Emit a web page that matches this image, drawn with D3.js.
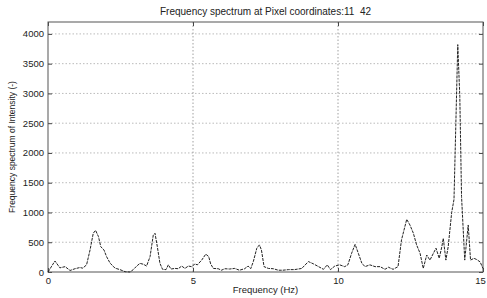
<!DOCTYPE html>
<html>
<head>
<meta charset="utf-8">
<script src="https://cdn.jsdelivr.net/npm/d3@7"></script>
<style>
  body { margin: 0; background: #fff; }
  svg { display: block; font-family: "Liberation Sans", Arial, sans-serif; }
</style>
</head>
<body>
<div id="chart"></div>
<script>
// values
const freqs = [0, 0.24, 0.41, 0.59, 0.76, 0.93, 1.10, 1.20, 1.33, 1.45, 1.56, 1.64, 1.74, 1.82, 1.93,
  2.02, 2.14, 2.31, 2.48, 2.66, 2.83, 2.94, 3.06, 3.17, 3.29, 3.40, 3.52, 3.63, 3.69, 3.77, 3.86, 3.95,
  4.07, 4.15, 4.24, 4.38, 4.49, 4.61, 4.72, 4.84, 4.95, 5.07, 5.15, 5.30, 5.44, 5.54, 5.61, 5.70, 5.87,
  5.98, 6.10, 6.26, 6.44, 6.60, 6.78, 6.90, 6.99, 7.08, 7.20, 7.29, 7.36, 7.45, 7.60, 7.77, 7.94, 8.10,
  8.30, 8.50, 8.75, 8.98, 9.16, 9.33, 9.50, 9.63, 9.74, 9.89, 10.06, 10.23, 10.34, 10.47, 10.59, 10.70,
  10.82, 10.93, 11.10, 11.28, 11.45, 11.62, 11.74, 11.90, 12.07, 12.19, 12.37, 12.48, 12.60, 12.71,
  12.83, 12.94, 13.06, 13.17, 13.29, 13.38, 13.49, 13.58, 13.63, 13.72, 13.80, 13.92, 14.00, 14.13,
  14.20, 14.26, 14.37, 14.49, 14.57, 14.69, 14.78, 14.90, 15.00]
const intensity = [0, 185, 70, 90, 25, 55, 75, 65, 120, 370, 650, 700, 595, 425, 370,
  258, 150, 65, 40, 5, 0, 40, 100, 145, 130, 100, 260, 620, 650, 425, 145, 45,
  40, 120, 50, 60, 55, 100, 60, 100, 90, 135, 120, 200, 300, 260, 135, 60, 55,
  30, 55, 50, 60, 30, 55, 100, 55, 175, 400, 455, 370, 90, 60, 55, 30, 30,
  40, 40, 60, 175, 135, 90, 45, 120, 40, 100, 120, 90, 120, 315, 465, 315,
  150, 90, 120, 90, 90, 45, 80, 45, 90, 540, 885, 790, 650, 455,
  315, 60, 285, 200, 315, 400, 230, 425, 565, 200, 425, 1000, 1220, 3820,
  2950, 1270, 200, 790, 200, 230, 210, 170, 60]

const xTicks = [0, 5, 10, 15]
const yTicks = [0, 500, 1000, 1500, 2000, 2500, 3000, 3500, 4000]

const title = 'Frequency spectrum at Pixel coordinates:11  42'
const xLabel = 'Frequency (Hz)'
const yLabel = 'Frequency spectrum of Intensity (-)'

const W = 487, H = 298
const box = { left: 48, right: 483, top: 22, bottom: 272 }

const svg = d3.select('#chart').append('svg')
  .attr('width', W).attr('height', H)

const x = d3.scaleLinear().domain([0, 15]).range([box.left, box.right])
const y = d3.scaleLinear().domain([0, 4200]).range([box.bottom, box.top])

// grid (dotted, matlab style)
svg.append('g').selectAll('line.hgrid')
  .data(yTicks.filter(d => d > 0))
  .enter().append('line')
  .attr('x1', box.left).attr('x2', box.right)
  .attr('y1', d => y(d)).attr('y2', d => y(d))
  .attr('stroke', '#aaa').attr('stroke-width', 0.8)
  .attr('stroke-dasharray', '1.5,2')

svg.append('g').selectAll('line.vgrid')
  .data(xTicks.filter(d => d > 0 && d < 15))
  .enter().append('line')
  .attr('y1', box.top).attr('y2', box.bottom)
  .attr('x1', d => x(d)).attr('x2', d => x(d))
  .attr('stroke', '#888').attr('stroke-width', 0.8)
  .attr('stroke-dasharray', '1.5,2')

// axes, ticks pointing inward
svg.append('g')
  .attr('transform', 'translate(0,' + box.bottom + ')')
  .call(d3.axisBottom(x).tickValues(xTicks).tickSize(-4).tickPadding(5).tickSizeOuter(0))
  .call(g => g.select('.domain').remove())
  // last label sits on the window edge, pull it in a bit
  .call(g => g.selectAll('.tick text').filter(d => d === 15).attr('dx', -3))

svg.append('g')
  .attr('transform', 'translate(' + box.left + ',0)')
  .call(d3.axisLeft(y).tickValues(yTicks).tickFormat(d3.format('d')).tickSize(-4).tickPadding(4).tickSizeOuter(0))
  .call(g => g.select('.domain').remove())

svg.append('g')
  .attr('transform', 'translate(0,' + box.top + ')')
  .call(d3.axisTop(x).tickValues(xTicks).tickSize(-4).tickFormat('').tickSizeOuter(0))
  .call(g => g.select('.domain').remove())

svg.append('g')
  .attr('transform', 'translate(' + box.right + ',0)')
  .call(d3.axisRight(y).tickValues(yTicks).tickSize(-4).tickFormat('').tickSizeOuter(0))
  .call(g => g.select('.domain').remove())

svg.selectAll('.tick line').attr('stroke', '#444')
svg.selectAll('.tick text').attr('fill', '#222').style('font-size', '9.5px')

svg.append('rect')
  .attr('x', box.left).attr('y', box.top)
  .attr('width', box.right - box.left).attr('height', box.bottom - box.top)
  .attr('fill', 'none').attr('stroke', '#555').attr('stroke-width', 1)

// spectrum line
const line = d3.line()
  .x((d, i) => x(freqs[i]))
  .y(d => y(d))

svg.append('path')
  .datum(intensity)
  .attr('d', line)
  .attr('fill', 'none')
  .attr('stroke', '#222')
  .attr('stroke-width', 1)
  .attr('stroke-dasharray', '3,1')

// labels
svg.append('text')
  .attr('x', (box.left + box.right) / 2).attr('y', 15)
  .attr('text-anchor', 'middle')
  .style('font-size', '10px').style('white-space', 'pre').attr('fill', '#222')
  .text(title)

svg.append('text')
  .attr('x', (box.left + box.right) / 2).attr('y', 293)
  .attr('text-anchor', 'middle')
  .style('font-size', '9.5px').attr('fill', '#222')
  .text(xLabel)

svg.append('text')
  .attr('transform', 'translate(15,' + (box.top + box.bottom) / 2 + ') rotate(-90)')
  .attr('text-anchor', 'middle')
  .style('font-size', '8.5px').attr('fill', '#222')
  .text(yLabel)
</script>
</body>
</html>
